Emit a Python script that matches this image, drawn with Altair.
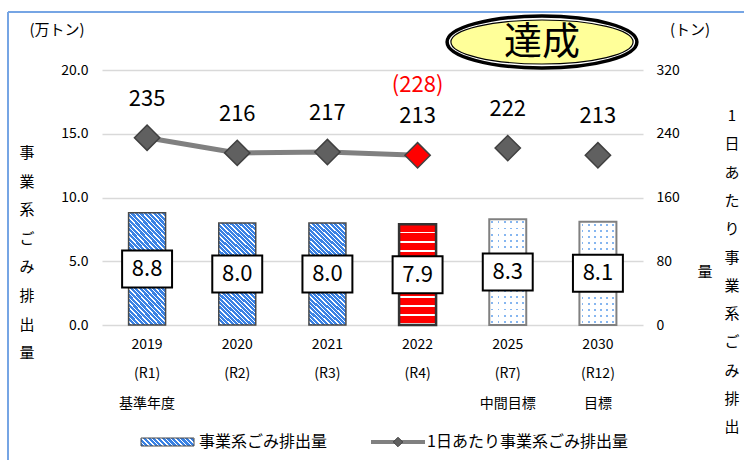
import altair as alt
import pandas as pd

# ---------------- data ----------------
years = ["2019", "2020", "2021", "2022", "2025", "2030"]
reiwa = ["(R1)", "(R2)", "(R3)", "(R4)", "(R7)", "(R12)"]
notes = ["基準年度", "", "", "", "中間目標", "目標"]
annual_10kt = [8.8, 8.0, 8.0, 7.9, 8.3, 8.1]        # 事業系ごみ排出量 (万トン)
daily_t = [235, 216, 217, 213, 222, 213]             # 1日あたり (トン)
kind = ["実績", "実績", "実績", "今年度", "目標", "目標"]
daily_note = ["", "", "", "(228)", "", ""]

left_unit = "(万トン)"
right_unit = "(トン)"
left_title = "事業系ごみ排出量"
right_title = "1日あたり事業系ごみ排出量"
badge = "達成"
legend_bar = "事業系ごみ排出量"
legend_line = "1日あたり事業系ごみ排出量"

cats = [f"{y}|{r}|{n}" for y, r, n in zip(years, reiwa, notes)]
df = pd.DataFrame({"cat": cats, "annual": annual_10kt, "daily": daily_t,
                   "kind": kind, "note": daily_note})

FONT = "Noto Sans CJK JP"


# ---------------- pattern helpers (styles) ----------------
def periodic(n, parts):
    """parts: list of (fraction_end, color) within one period."""
    stops = []
    for k in range(n):
        start = k / n
        prev = 0.0
        for end, col in parts:
            stops.append({"offset": round(start + prev / n, 5), "color": col})
            stops.append({"offset": round(start + end / n, 5), "color": col})
            prev = end
    return stops


def diag(w, h):
    t = (w + h) * h / (w * w + h * h)
    return dict(x1=0, y1=1, x2=round(t * w / h, 4), y2=round(1 - t, 4))


BLUE = "#3A82E4"
blue_grad = {"gradient": "linear", **diag(37, 106),
             "stops": periodic(32, [(0.7, BLUE), (1.0, "#FFFFFF")])}
legend_grad = {"gradient": "linear", **diag(53, 8),
               "stops": periodic(13, [(0.68, BLUE), (1.0, "#FFFFFF")])}
red_grad = {"gradient": "linear", "x1": 0, "y1": 0, "x2": 0, "y2": 1,
            "stops": periodic(11, [(0.8, "#FF0000"), (1.0, "#FFFFFF")])}
dot_v = {"gradient": "linear", "x1": 0, "y1": 0, "x2": 1, "y2": 0,
         "stops": periodic(6, [(0.36, "#FFFFFF"), (0.64, "#86B6F0"), (1.0, "#FFFFFF")])}
dot_h = {"gradient": "linear", "x1": 0, "y1": 0, "x2": 0, "y2": 1,
         "stops": periodic(17, [(0.36, "#FFFFFF"), (0.64, "rgba(255,255,255,0)"), (1.0, "#FFFFFF")])}

BOX = "M-1.35,-1L1.35,-1L1.35,1L-1.35,1Z"
ELL_OUT = "M-3.65,0A3.65,1,0,1,0,3.65,0A3.65,1,0,1,0,-3.65,0Z"
ELL_IN = "M-4.14,0A4.14,1,0,1,0,4.14,0A4.14,1,0,1,0,-4.14,0Z"

# ---------------- encodings ----------------
X = alt.X("cat:N", sort=cats,
          scale=alt.Scale(paddingInner=0, paddingOuter=0),
          axis=alt.Axis(title=None, labelAngle=0, labelExpr="split(datum.value, '|')",
                        labelFontSize=14, labelFont=FONT, labelColor="#000000",
                        labelLineHeight=29.5, labelPadding=12, domain=False,
                        ticks=False, grid=False))

yl_scale = alt.Scale(domain=[0, 20], nice=False)
yl_axis = alt.Axis(title=None, values=[0, 5, 10, 15, 20], format=".1f", grid=True,
                   gridColor="#D9D9D9", gridWidth=1.5, domain=False, ticks=False,
                   labelPadding=14, labelFontSize=14, labelFont=FONT, labelColor="#000000")
YL = alt.Y("annual:Q", scale=yl_scale, axis=yl_axis)
YL_mid = alt.Y("mid:Q", scale=yl_scale, axis=yl_axis)

YR = alt.Y("daily:Q", scale=alt.Scale(domain=[0, 320], nice=False),
           axis=alt.Axis(orient="right", title=None, values=[0, 80, 160, 240, 320],
                         format="d", grid=False, domain=False, ticks=False,
                         labelPadding=13, labelFontSize=14, labelFont=FONT,
                         labelColor="#000000"))

base = alt.Chart(df)

blue_bars = base.transform_filter(alt.datum.kind == "実績").mark_bar(
    size=37, fill=blue_grad, stroke="#4A4A4A", strokeWidth=1.5).encode(x=X, y=YL)
red_bars = base.transform_filter(alt.datum.kind == "今年度").mark_bar(
    size=37, fill=red_grad, stroke="#333333", strokeWidth=2.5).encode(x=X, y=YL)
dot_bars1 = base.transform_filter(alt.datum.kind == "目標").mark_bar(
    size=37, fill=dot_v, strokeWidth=0).encode(x=X, y=YL)
dot_bars2 = base.transform_filter(alt.datum.kind == "目標").mark_bar(
    size=37, fill=dot_h, stroke="#808080", strokeWidth=2).encode(x=X, y=YL)

boxes = base.transform_calculate(mid="datum.annual / 2").mark_point(
    shape=BOX, size=1369, filled=True, fill="white", stroke="black",
    strokeWidth=2, opacity=1).encode(x=X, y=YL_mid)
box_text = base.transform_calculate(mid="datum.annual / 2").mark_text(
    font=FONT, fontSize=22, color="black").encode(
    x=X, y=YL_mid, text=alt.Text("annual:Q", format=".1f"))

left_group = alt.layer(blue_bars, red_bars, dot_bars1, dot_bars2, boxes, box_text)

line = base.transform_filter("datum.kind == '実績' || datum.kind == '今年度'").mark_line(
    color="#808080", strokeWidth=5).encode(x=X, y=YR)
pts = base.mark_point(shape="diamond", size=640, filled=True, stroke="#404040",
                      strokeWidth=1.5, opacity=1).encode(
    x=X, y=YR,
    fill=alt.condition(alt.datum.kind == "今年度", alt.value("#FF0000"), alt.value("#606060")))
pt_lbl = base.mark_text(font=FONT, fontSize=22, dy=-39, color="black").encode(
    x=X, y=YR, text="daily:Q")
pt_note = base.transform_filter(alt.datum.note != "").mark_text(
    font=FONT, fontSize=22, dy=-70, color="#FF0000").encode(x=X, y=YR, text="note:N")

right_group = alt.layer(line, pts, pt_lbl, pt_note)

# ---------------- decorations ----------------
one = alt.Chart(pd.DataFrame({"k": [0]}))
FRAME = "#76A5E4"
frame_top = one.mark_rule(color=FRAME, strokeWidth=2).encode(
    x=alt.value(-94), x2=alt.value(660), y=alt.value(-58))
frame_left = one.mark_rule(color=FRAME, strokeWidth=2).encode(
    x=alt.value(-94), y=alt.value(-58), y2=alt.value(400))

ell_out = one.mark_point(shape=ELL_OUT, size=2704, filled=True, fill="white",
                         stroke="black", strokeWidth=3.5, opacity=1).encode(
    x=alt.value(440), y=alt.value(-28))
ell_in = one.mark_point(shape=ELL_IN, size=1936, filled=True, fill="#FFFF99",
                        stroke="black", strokeWidth=1.2, opacity=1).encode(
    x=alt.value(440), y=alt.value(-28))
badge_t = alt.Chart(pd.DataFrame({"t": [badge]})).mark_text(
    font=FONT, fontSize=38, color="black").encode(
    text="t:N", x=alt.value(440), y=alt.value(-27))

unit_l = alt.Chart(pd.DataFrame({"t": [left_unit]})).mark_text(
    font=FONT, fontSize=15, color="black").encode(text="t:N", x=alt.value(-45), y=alt.value(-40))
unit_r = alt.Chart(pd.DataFrame({"t": [right_unit]})).mark_text(
    font=FONT, fontSize=15, color="black").encode(text="t:N", x=alt.value(588), y=alt.value(-40))

vt_left = one.mark_text(text=list(left_title), font=FONT, fontSize=15, lineHeight=28.6,
                        baseline="top", color="black").encode(x=alt.value(-75), y=alt.value(76))
vt_right = one.mark_text(text=list(right_title[:-1]), font=FONT, fontSize=15, lineHeight=28.3,
                         baseline="top", color="black").encode(x=alt.value(630), y=alt.value(39))
vt_right2 = alt.Chart(pd.DataFrame({"t": [right_title[-1]]})).mark_text(
    font=FONT, fontSize=15, color="black").encode(text="t:N", x=alt.value(603), y=alt.value(202))

LY = 372
leg_bar = one.mark_rect(fill=legend_grad, stroke="#4A4A4A", strokeWidth=1).encode(
    x=alt.value(39), x2=alt.value(92), y=alt.value(LY - 4), y2=alt.value(LY + 4))
leg_line = one.mark_rule(color="#808080", strokeWidth=4).encode(
    x=alt.value(269), x2=alt.value(323), y=alt.value(LY))
leg_pt = one.mark_point(shape="diamond", size=90, filled=True, fill="#606060",
                        stroke="#404040", strokeWidth=1, opacity=1).encode(
    x=alt.value(296), y=alt.value(LY))
leg_t1 = alt.Chart(pd.DataFrame({"t": [legend_bar]})).mark_text(
    font=FONT, fontSize=16, align="left", color="black").encode(
    text="t:N", x=alt.value(97), y=alt.value(LY))
leg_t2 = alt.Chart(pd.DataFrame({"t": [legend_line]})).mark_text(
    font=FONT, fontSize=16, align="left", color="black").encode(
    text="t:N", x=alt.value(325), y=alt.value(LY))

chart = alt.layer(
    left_group, right_group,
    frame_top, frame_left, ell_out, ell_in, badge_t, unit_l, unit_r,
    vt_left, vt_right, vt_right2, leg_bar, leg_line, leg_pt, leg_t1, leg_t2,
).resolve_scale(y="independent").properties(
    width=541, height=255,
    padding={"left": 102, "top": 70, "right": 101, "bottom": 135},
    autosize=alt.AutoSizeParams(type="none"),
    background="white",
).configure_view(stroke=None)

chart.save("out.html", embed_options={"renderer": "svg", "actions": False})
